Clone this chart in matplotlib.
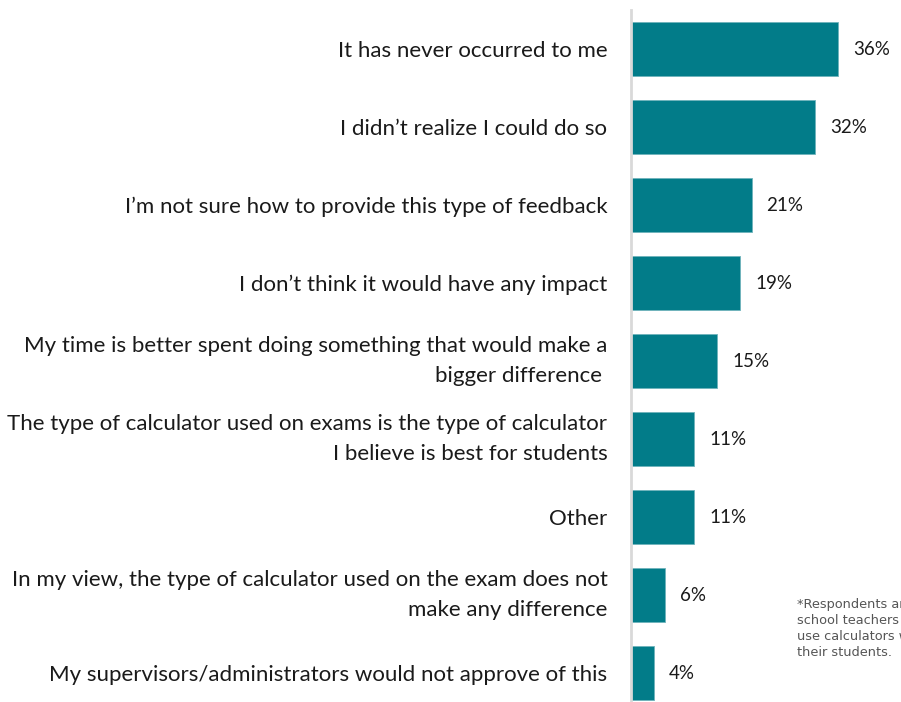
import matplotlib.pyplot as plt

# Reasons for not giving feedback, share of respondents (%)
reasons = [
    "It has never occurred to me",
    "I didn\u2019t realize I could do so",
    "I\u2019m not sure how to provide this type of feedback",
    "I don\u2019t think it would have any impact",
    "My time is better spent doing something that would make a\nbigger difference ",
    "The type of calculator used on exams is the type of calculator\nI believe is best for students",
    "Other",
    "In my view, the type of calculator used on the exam does not\nmake any difference",
    "My supervisors/administrators would not approve of this",
]
shares = [36, 32, 21, 19, 15, 11, 11, 6, 4]

BAR_COLOR = "#027C89"

fig = plt.figure(figsize=(9.01, 7.02), dpi=100)
ax = fig.add_axes([631 / 901, 0, 270 / 901, 692 / 702])

y = list(range(len(reasons)))
ax.barh(y, shares, height=0.69, color=BAR_COLOR, edgecolor="#6fb3bb", linewidth=0.6)

ax.set_xlim(0, 47)
ax.set_ylim(8.37, -0.5)

for spine in ["top", "right", "bottom"]:
    ax.spines[spine].set_visible(False)
ax.spines["left"].set_color("#d9d9d9")
ax.spines["left"].set_linewidth(2)
ax.set_xticks([])
ax.set_yticks(y)
ax.set_yticklabels(reasons, fontsize=16, family="Lato", color="#1a1a1a",
                   linespacing=1.62)
# wrapped labels look better centred on the bar as a block
for lbl in ax.get_yticklabels():
    if "\n" in lbl.get_text():
        lbl.set_verticalalignment("center")
ax.tick_params(axis="y", length=0, pad=17)

for yi, v in zip(y, shares):
    ax.text(v + 2.6, yi, f"{v}%", va="center", ha="left", fontsize=13.5,
            family="Lato", color="#1a1a1a")

# footnote, runs off the right edge
fig.text(797 / 901, 1 - 598 / 702,
         "*Respondents are high\nschool teachers who\nuse calculators with\ntheir students.",
         ha="left", va="top", fontsize=9.3, color="#555555", linespacing=1.3,
         family="DejaVu Sans")

fig.savefig("out.png", dpi=100)
